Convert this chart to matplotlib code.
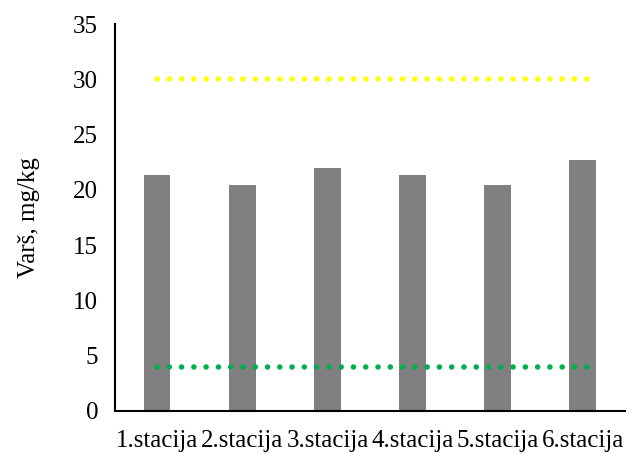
import numpy as np
import matplotlib.pyplot as plt

plt.rcParams["font.family"] = ["Liberation Serif", "DejaVu Serif"]

stations = ["1.stacija", "2.stacija", "3.stacija", "4.stacija", "5.stacija", "6.stacija"]
values = [21.3, 20.4, 22.0, 21.3, 20.4, 22.7]
upper_limit = 30
lower_limit = 4

fig = plt.figure(figsize=(6.34, 4.54), dpi=100)
ax = fig.add_axes([0.181, 0.095, 0.805, 0.852])

x = np.arange(len(stations))
ax.bar(x, values, width=0.31, color="#808080", zorder=2)

dots = (0, (0.01, 2.2))
ax.plot([x[0], x[-1] + 0.08], [upper_limit, upper_limit], color="#FFFF00", lw=4.0,
        linestyle=dots, dash_capstyle="round", zorder=3)
ax.plot([x[0], x[-1] + 0.08], [lower_limit, lower_limit], color="#00B050", lw=4.0,
        linestyle=dots, dash_capstyle="round", zorder=3)

ax.set_xlim(-0.5, len(stations) - 0.5)
ax.set_ylim(0, 35)
ax.set_yticks(range(0, 36, 5))
ax.set_xticks(x)
ax.set_xticklabels(stations)
ax.tick_params(axis="both", length=0, labelsize=18)
ax.tick_params(axis="y", pad=12)
ax.tick_params(axis="x", pad=14)
ax.set_ylabel("Varš, mg/kg", fontsize=18, labelpad=24)

for side in ["top", "right"]:
    ax.spines[side].set_visible(False)
ax.spines["left"].set_linewidth(1.5)
ax.spines["bottom"].set_linewidth(1.5)

fig.savefig("out.png", dpi=100)
